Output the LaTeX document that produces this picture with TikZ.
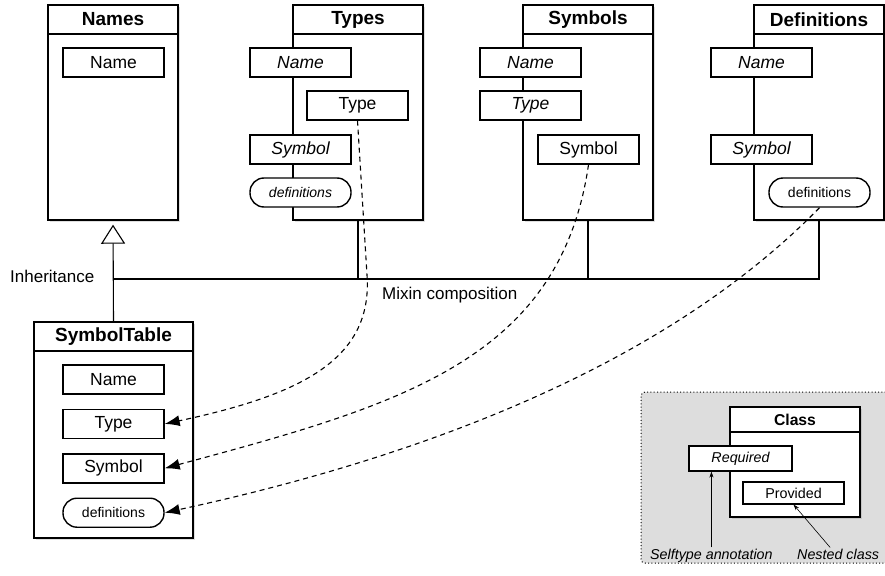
\documentclass[tikz,border=0pt]{standalone}
\usepackage{fontspec}
\setmainfont{Liberation Sans}
\usetikzlibrary{arrows.meta,positioning,shadows,calc}
\definecolor{legendgray}{HTML}{DDDDDD}

\begin{document}
\begin{tikzpicture}[x=1pt,y=-1pt,>=Latex,
    class box/.style={draw,fill=white,line width=1.4pt,minimum width=130pt,minimum height=215pt,inner sep=0pt,
        drop shadow={opacity=0.25,shadow xshift=2pt,shadow yshift=-2pt}},
    head box/.style={draw,fill=white,line width=1.4pt,minimum width=130pt,minimum height=29pt,inner sep=0pt,
        font=\fontsize{19}{22}\selectfont\bfseries},
    member/.style={draw,fill=white,line width=1.4pt,minimum width=101pt,minimum height=29pt,inner sep=0pt,
        font=\fontsize{17.5}{20}\selectfont},
    abstract member/.style={member,font=\fontsize{17.5}{20}\selectfont\itshape},
    def member/.style={member,rounded corners=14pt,font=\fontsize{14}{16}\selectfont},
    lbl/.style={inner sep=0pt,font=\fontsize{17}{20}\selectfont},
    mix arrow/.style={->,line width=1.1pt,dash pattern=on 5pt off 4pt,>={Latex[length=15pt,width=11pt]}},
    legend bg/.style={fill=legendgray,line width=1pt,dash pattern=on 1pt off 2.3pt,rounded corners=4pt,draw},
    legend class/.style={draw,fill=white,line width=1.1pt,inner sep=0pt},
    note/.style={inner sep=1pt,font=\fontsize{14.3}{17}\selectfont\itshape},
    note arrow/.style={->,line width=0.6pt,>={Stealth[length=6pt,width=4pt]}}]

    \useasboundingbox (0,0) rectangle (885,575);

    % the four traits
    \foreach \nm/\lbl/\cx in {names/Names/113, types/Types/358, symbols/Symbols/588, defs/Definitions/819}{
        \node[class box] (\nm) at (\cx,112.5) {};
        \node[head box, anchor=north] (\nm H) at (\nm.north) {\lbl};
    }

    \node[member] (nmName) at (113.5,62.5) {Name};

    \node[abstract member] (tyName) at (300.5,62.5) {Name};
    \node[member] (tyType) at (357.5,105.5) {Type};
    \node[abstract member] (tySym) at (300.5,149.5) {Symbol};
    \node[def member, font=\fontsize{14}{16}\selectfont\itshape] (tyDef) at (300.5,192.5) {definitions};

    \node[abstract member] (syName) at (530.5,62.5) {Name};
    \node[abstract member] (syType) at (530.5,105.5) {Type};
    \node[member] (sySym) at (588.5,149.5) {Symbol};

    \node[abstract member] (dfName) at (761.5,62.5) {Name};
    \node[abstract member] (dfSym) at (761.5,149.5) {Symbol};
    \node[def member] (dfDef) at (819.5,192.5) {definitions};

    % the composed class
    \node[class box, minimum width=159pt, minimum height=216pt] (symtab) at (113.5,430) {};
    \node[head box, minimum width=159pt, anchor=north] (symtabH) at (symtab.north) {SymbolTable};
    \node[member] (stName) at (113.5,379.5) {Name};
    \node[member] (stType) [below=14pt of stName] {Type};
    \node[member] (stSym) [below=14pt of stType] {Symbol};
    \node[def member] (stDef) [below=14pt of stSym] {definitions};

    % inheritance and mixin composition
    \draw[line width=1.1pt, -{Triangle[open,length=19pt,width=24pt]}, shorten >=4pt] (symtab.north) -- (names.south);
    \coordinate (mix) at (names.south |- 0,279);
    \draw[line width=1.1pt] (mix) -| (defs.south);
    \draw[line width=1.1pt] (types.south) -- (types.south |- mix);
    \draw[line width=1.1pt] (symbols.south) -- (symbols.south |- mix);

    \node[lbl, anchor=base west] (inhLbl) at (10,282) {Inheritance};
    \node[lbl, anchor=base west] (mixLbl) at (382,299) {Mixin composition};

    \draw[mix arrow] (tyType.south) -- (367,275) .. controls (373,360) and (300,395) .. (stType.east);
    \draw[mix arrow] (sySym.south) .. controls (560,360) and (400,405) .. (stSym.east);
    \draw[mix arrow] (dfDef.south) .. controls (700,330) and (500,440) .. (stDef.east);

    % legend
    \node[legend bg, minimum width=252pt, minimum height=171pt] (legend) at (767,477.5) {};
    \node[legend class, minimum width=130pt, minimum height=110pt,
        drop shadow={opacity=0.25,shadow xshift=1.5pt,shadow yshift=-1.5pt}] (lgClass) at (795,462) {};
    \node[legend class, minimum width=130pt, minimum height=25pt, anchor=north,
        font=\fontsize{15.7}{18}\selectfont\bfseries] (lgClassH) at (lgClass.north) {Class};
    \node[legend class, minimum width=103pt, minimum height=25pt,
        font=\fontsize{14.3}{17}\selectfont\itshape] (req) at (740.5,458.5) {Required};
    \node[legend class, minimum width=101pt, minimum height=22pt,
        font=\fontsize{14.3}{17}\selectfont] (prov) at (793.5,493) {Provided};

    \node[note, anchor=base west] (selfLbl) at (649,559) {Selftype annotation};
    \node[note, anchor=base west] (nestLbl) at (796,559) {Nested class};
    \draw[note arrow] (selfLbl.north) -- (selfLbl.north |- req.south);
    \draw[note arrow] ([xshift=-8pt]nestLbl.north) -- (prov.south);

\end{tikzpicture}
\end{document}
